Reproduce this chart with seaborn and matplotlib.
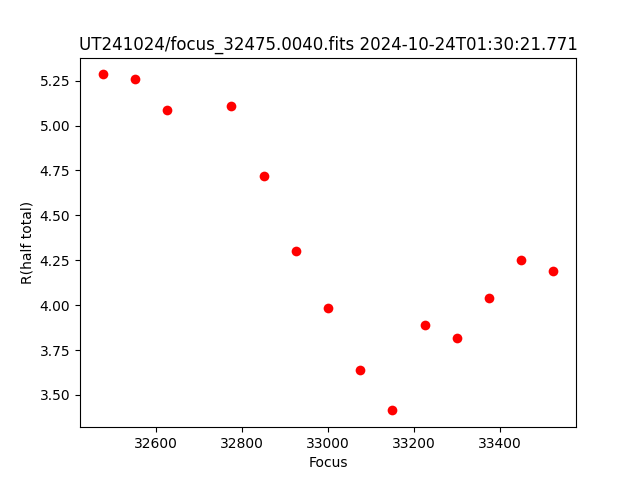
import pandas as pd
import seaborn as sns
import matplotlib
matplotlib.use('Agg')
import matplotlib.pyplot as plt

# Focus positions and measured half-total radius
focus = [32475, 32550, 32625, 32775, 32850, 32925, 33000,
         33075, 33150, 33225, 33300, 33375, 33450, 33525]
r_half = [5.285, 5.257, 5.085, 5.107, 4.717, 4.301, 3.982,
          3.637, 3.414, 3.888, 3.815, 4.038, 4.249, 4.188]

data = pd.DataFrame({'Focus': focus, 'R(half total)': r_half})

fig, ax = plt.subplots(figsize=(6.4, 4.8), dpi=100)
sns.scatterplot(data=data, x='Focus', y='R(half total)', ax=ax,
                color='red', s=49, linewidth=0)

ax.set_xlabel('Focus')
ax.set_ylabel('R(half total)')
ax.set_title('UT241024/focus_32475.0040.fits 2024-10-24T01:30:21.771')

plt.savefig('out.png')
